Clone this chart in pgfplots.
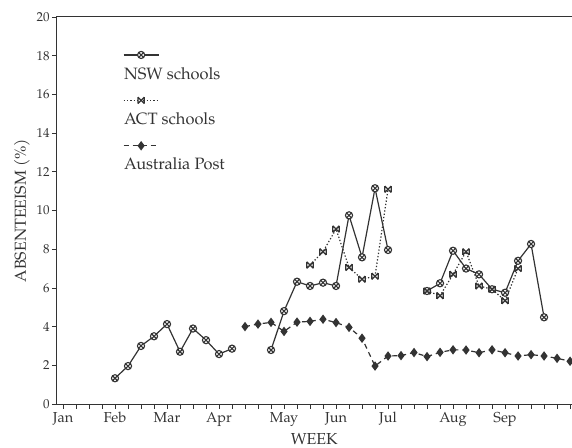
\documentclass[border=0pt]{standalone}
\usepackage{fontspec}
\setmainfont{TeX Gyre Pagella}
\usepackage{pgfplots}
\usepackage{pgfplotstable}
\pgfplotsset{compat=1.18}
\definecolor{ink}{HTML}{333333}

\pgfdeclareplotmark{bowx}{%
  \pgfpathmoveto{\pgfqpoint{-\pgfplotmarksize}{-\pgfplotmarksize}}%
  \pgfpathlineto{\pgfqpoint{\pgfplotmarksize}{\pgfplotmarksize}}%
  \pgfpathmoveto{\pgfqpoint{-\pgfplotmarksize}{\pgfplotmarksize}}%
  \pgfpathlineto{\pgfqpoint{\pgfplotmarksize}{-\pgfplotmarksize}}%
  \pgfpathmoveto{\pgfqpoint{-\pgfplotmarksize}{-\pgfplotmarksize}}%
  \pgfpathlineto{\pgfqpoint{-\pgfplotmarksize}{\pgfplotmarksize}}%
  \pgfpathmoveto{\pgfqpoint{\pgfplotmarksize}{-\pgfplotmarksize}}%
  \pgfpathlineto{\pgfqpoint{\pgfplotmarksize}{\pgfplotmarksize}}%
  \pgfusepathqstroke}

\pgfplotstableread{
x y
4 1.33
5 1.96
6 3.00
7 3.50
8 4.13
9 2.70
10 3.90
11 3.30
12 2.58
13 2.86
14 nan
16 2.79
17 4.80
18 6.32
19 6.10
20 6.27
21 6.10
22 9.75
23 7.58
24 11.15
25 7.96
26 nan
28 5.84
29 6.24
30 7.92
31 7.00
32 6.70
33 5.93
34 5.75
35 7.40
36 8.27
37 4.48
}\nsw

\pgfplotstableread{
x y
19 7.18
20 7.87
21 9.04
22 7.06
23 6.45
24 6.60
25 11.10
26 nan
28 5.84
29 5.60
30 6.70
31 7.87
32 6.10
33 5.93
34 5.34
35 7.00
}\act

\pgfplotstableread{
x y
14 4.00
15 4.13
16 4.22
17 3.75
18 4.23
19 4.27
20 4.38
21 4.21
22 3.96
23 3.40
24 1.96
25 2.48
26 2.50
27 2.66
28 2.45
29 2.67
30 2.80
31 2.79
32 2.65
33 2.80
34 2.65
35 2.48
36 2.55
37 2.48
38 2.36
39 2.21
}\post

\begin{document}
\begin{tikzpicture}
\begin{axis}[
  scale only axis, width=515.5bp, height=387bp,
  xmin=-0.5, xmax=39.15, ymin=0, ymax=20,
  axis x line*=box, axis y line*=left,
  xtick={0,4,8,12,17,21,25,30,34},
  xticklabels={Jan,Feb,Mar,Apr,May,Jun,Jul,Aug,Sep},
  minor xtick={0,1,...,39},
  ytick={0,2,...,20},
  xtick pos=left, ytick pos=left,
  tick align=outside,
  major tick length=4.5bp, minor tick length=4.5bp,
  every tick/.style={ink, line width=0.8pt},
  axis line style={ink, line width=1pt},
  /pgf/number format/assume math mode=true,
  yticklabel style={font=\fontsize{13}{15}\selectfont, text=ink, xshift=1bp},
  xticklabel style={font=\fontsize{14.5}{16}\selectfont, text=ink},
  xlabel={WEEK}, ylabel={ABSENTEEISM (\%)},
  label style={font=\fontsize{16}{18}\selectfont, text=ink},
  unbounded coords=jump,
  legend cell align=left,
  legend style={draw=none, fill=none, at={(rel axis cs:0.119,0.881)}, anchor=north west,
    font=\fontsize{16.5}{18}\selectfont, text=ink, row sep=28bp},
  legend image code/.code={%
    \draw[overlay, mark repeat=2, mark phase=2, #1] plot coordinates {(2bp,19bp) (19.5bp,19bp) (37bp,19bp)};
    \path (0,0);
  },
]
\coordinate (bl) at (rel axis cs:0,0);
\coordinate (tr) at (rel axis cs:1,1);
\addplot[ink, line width=1.2pt, mark=otimes*, mark size=3.6pt,
  mark options={solid, fill=white, line width=1.1pt}] table {\nsw};
\addlegendentry{NSW schools}
\addplot[ink, line width=1.2pt, dash pattern=on 1.3bp off 2bp, mark=bowx, mark size=3.2pt,
  mark options={solid, line width=1.3pt}] table {\act};
\addlegendentry{ACT schools}
\addplot[ink, line width=1.2pt, dash pattern=on 5bp off 4bp, mark=diamond*, mark size=3.8pt,
  mark options={solid, fill=ink}] table {\post};
\addlegendentry{Australia Post}
\end{axis}
\pgfresetboundingbox
\path ([xshift=-56.5bp,yshift=-44bp]bl) rectangle ([yshift=17bp]tr);
\end{tikzpicture}
\end{document}
